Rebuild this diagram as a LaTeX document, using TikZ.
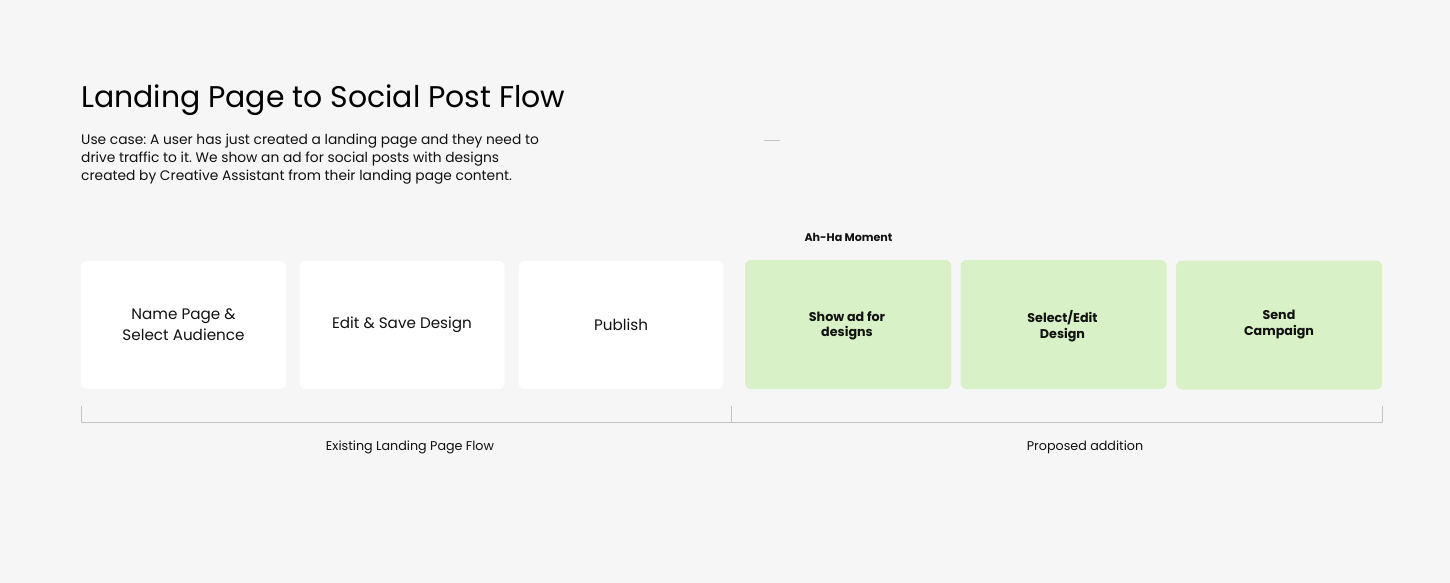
\documentclass[tikz,border=0pt]{standalone}
\usepackage{fontspec}
\setmainfont{Poppins}
\frenchspacing
\definecolor{bg}{HTML}{F6F6F6}
\definecolor{greenbox}{HTML}{D8F1C6}
\definecolor{rulegray}{HTML}{C4C4C4}
\definecolor{ink}{HTML}{111111}
\begin{document}
\begin{tikzpicture}[x=1pt,y=-1pt,
  card/.style={fill=white,rounded corners=6pt,minimum width=205pt,minimum height=128pt,inner sep=0pt},
  gcard/.style={fill=greenbox,rounded corners=6pt,minimum width=206pt,minimum height=129pt,inner sep=0pt},
  cardtxt/.style={font=\fontsize{15.2}{21}\selectfont,align=center,text=ink},
  gtxt/.style={font=\bfseries\fontsize{12.7}{15.5}\selectfont,align=center,text=ink},
  lbl/.style={font=\fontsize{12.7}{15}\selectfont,text=ink},
  bracket/.style={draw=rulegray,line width=1pt}]
\fill[bg] (0,0) rectangle (1450,583);
\useasboundingbox (0,0) rectangle (1450,583);
\node[anchor=base west,inner sep=0pt,font=\fontsize{29.9}{34}\selectfont,text=black] (title) at (81,107.5) {Landing Page to Social Post Flow};
\node[anchor=base west,inner sep=0pt,align=left,font=\fontsize{13.8}{18}\selectfont,text=ink] (desc) at (81,180.5) {Use case: A user has just created a landing page and they need to\\drive traffic to it. We show an ad for social posts with designs\\created by Creative Assistant from their landing page content.};
\draw[rulegray,line width=1pt] (764,140) coordinate (d1) -- (780,140) coordinate (d2);
\node[font=\bfseries\fontsize{11.1}{13}\selectfont,text=ink] (aha) at (848.5,237) {Ah-Ha Moment};
\node[card] (n1) at (183.5,325) {};
\node[cardtxt] at (n1) {Name Page \&\\Select Audience};
\node[card] (n2) at (402,325) {};
\node[cardtxt] at (n2) {Edit \& Save Design};
\node[card] (n3) at (621,325) {};
\node[cardtxt] at (n3) {Publish};
\node[gcard] (g1) at (848,324.5) {};
\node[gtxt] at (847,326) {Show ad for\\designs};
\node[gcard] (g2) at (1063.5,324.5) {};
\node[gtxt] at (1062.5,326) {Select/Edit\\Design};
\node[gcard] (g3) at (1279,325) {};
\node[gtxt] at (1279,324.5) {Send\\Campaign};
\coordinate (bl) at (81,406);
\coordinate (bm) at (731.5,406);
\coordinate (br) at (1382,406);
\draw[bracket] (bl) -- (81,422.5) -- (1382,422.5) -- (br);
\draw[bracket] (bm) -- (731.5,422.5);
\node[lbl] (ex) at (410,447) {Existing Landing Page Flow};
\node[lbl] (pr) at (1085,447) {Proposed addition};
\end{tikzpicture}
\end{document}
